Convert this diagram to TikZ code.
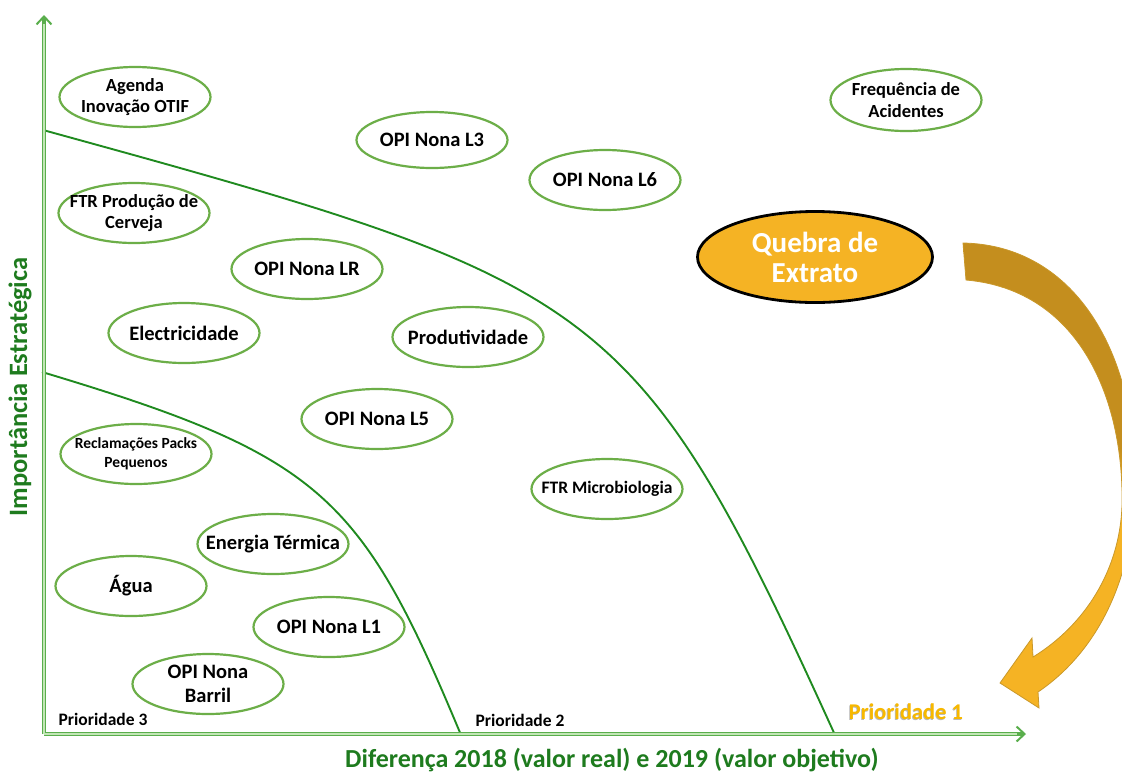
\documentclass[tikz,border=0pt]{standalone}
\usepackage{fontspec}
\setmainfont{Carlito}
\usetikzlibrary{shapes.geometric,arrows.meta}

\definecolor{bubblegreen}{HTML}{6CAE48}
\definecolor{curvegreen}{HTML}{1F8A1F}
\definecolor{axisdark}{HTML}{5AAE4C}
\definecolor{axislight}{HTML}{C2E6B6}
\definecolor{labelgreen}{HTML}{1E7B1E}
\definecolor{gold}{HTML}{F5B324}
\definecolor{golddark}{HTML}{C48E1E}
\definecolor{goldedge}{HTML}{C9982A}
\definecolor{prioyellow}{HTML}{F7B800}

% vertical gold gradient for the curved arrow: light at the bottom, dark at the top
\pgfdeclareverticalshading{arrowgold}{100bp}{%
  color(0bp)=(gold); color(25bp)=(gold); color(47bp)=(gold);
  color(53bp)=(golddark); color(75bp)=(golddark); color(100bp)=(golddark)}

\begin{document}
\begin{tikzpicture}[x=1pt,y=-1pt,
  bubble/.style={ellipse, draw=bubblegreen, line width=2.2pt, fill=white,
    minimum width=151pt, minimum height=60pt, inner sep=0pt, outer sep=0pt},
  txt/.style={font=\bfseries\fontsize{20.5}{24}\selectfont, align=center, text=black, inner sep=0pt},
  txtmid/.style={font=\bfseries\fontsize{18.5}{21.5}\selectfont, align=center, text=black, inner sep=0pt},
  txtsmall/.style={font=\bfseries\fontsize{15.5}{19}\selectfont, align=center, text=black, inner sep=0pt},
  axisline/.style={draw=axisdark, line width=4.5pt,
    -{Straight Barb[length=8pt,width=15pt,line width=2pt]}},
  axiscore/.style={draw=axislight, line width=1.8pt},
  curve/.style={draw=curvegreen, line width=1.9pt},
  axislabel/.style={font=\bfseries\fontsize{26}{28}\selectfont, text=labelgreen, inner sep=0pt},
  prio/.style={font=\bfseries\fontsize{17.5}{19}\selectfont, inner sep=0pt}
]
\useasboundingbox (0,0) rectangle (1122,772);

% priority boundaries
\draw[curve] (43,130) .. controls (603,284) and (635,295) .. (835,735);
\draw[curve] (42,372) .. controls (322,456) and (361,495) .. (461,735);

% axes
\coordinate (O) at (44,734);
\coordinate (Ytip) at (44,15);
\coordinate (Ycore) at (44,24);
\coordinate (Xtip) at (1026,734);
\coordinate (Xcore) at (1017,734);
\draw[axisline] (O) -- (Ytip);
\draw[axisline] (O) -- (Xtip);
\draw[axiscore] (O) -- (Ycore);
\draw[axiscore] (O) -- (Xcore);

% axis titles
\node[axislabel] (xlab) at (612,760) {Diferença 2018 (valor real) e 2019 (valor objetivo)};
\node[axislabel, font=\bfseries\fontsize{26.5}{28}\selectfont, rotate=90] (ylab) at (20,387) {Importância Estratégica};

% zone labels
\node[prio, text=black] (p3) at (103,719) {Prioridade 3};
\node[prio, text=black] (p2) at (520,720) {Prioridade 2};
\node[prio, font=\bfseries\fontsize{22.5}{24}\selectfont, text=gray!55] (p1s) at (905.2,712.8) {Prioridade 1};
\node[prio, font=\bfseries\fontsize{22.5}{24}\selectfont, text=prioyellow] (p1) at (906,712) {Prioridade 1};

% indicators
\node[bubble, label={[txtmid]center:{Agenda\\Inovação OTIF}}] (agenda) at (135,97) {};
\node[bubble, label={[txtmid]center:{FTR Produção de\\Cerveja}}] (ftrcerv) at (134,213) {};
\node[bubble, minimum height=56pt, label={[txt]center:OPI Nona L3}] (l3) at (432,140) {};
\node[bubble, label={[txt]center:OPI Nona L6}] (l6) at (605,180) {};
\node[bubble, minimum height=62pt, label={[txtmid]center:{Frequência de\\Acidentes}}] (freq) at (906,100) {};
\node[bubble, label={[txt]center:OPI Nona LR}] (lr) at (307,269) {};
\node[bubble, label={[txt]center:Electricidade}] (elec) at (184,333) {};
\node[bubble, label={[txt]center:Produtividade}] (prod) at (468,337) {};
\node[bubble, label={[txt]center:OPI Nona L5}] (l5) at (377,419) {};
\node[bubble, label={[txtsmall]center:{Reclamações Packs\\Pequenos}}] (recl) at (136,454) {};
\node[bubble, label={[txtmid,font=\bfseries\fontsize{17.5}{19}\selectfont]center:FTR Microbiologia}] (micro) at (607,489) {};
\node[bubble, label={[txt]center:Energia Térmica}] (energ) at (273,544) {};
\node[bubble, label={[txt]center:Água}] (agua) at (131,586) {};
\node[bubble, label={[txt]center:OPI Nona L1}] (l1) at (329,627) {};
\node[bubble, label={[txt]center:{OPI Nona\\Barril}}] (barril) at (208,684) {};

% highlighted indicator
\node[ellipse, draw=black, line width=2.8pt, fill=gold, minimum width=235pt, minimum height=91pt,
  inner sep=0pt, label={[font=\bfseries\fontsize{29}{30}\selectfont, text=white, align=center, inner sep=0pt]center:{Quebra de\\Extrato}}]
  (quebra) at (815,257) {};

% curved block arrow towards priority 1
\begin{scope}
\clip (0,0) rectangle (1122,772);
\path[shading=arrowgold, draw=goldedge, line width=0.8pt]
  (963,243) .. controls (1065,245) and (1128,335) .. (1135,460)
  .. controls (1140,570) and (1100,650) .. (1038,692)
  -- (1039,708) -- (1000,683) -- (1032,638) -- (1033,657)
  .. controls (1085,625) and (1120,570) .. (1122,505)
  .. controls (1124,400) and (1080,290) .. (966,280) -- cycle;
\end{scope}
\end{tikzpicture}
\end{document}
